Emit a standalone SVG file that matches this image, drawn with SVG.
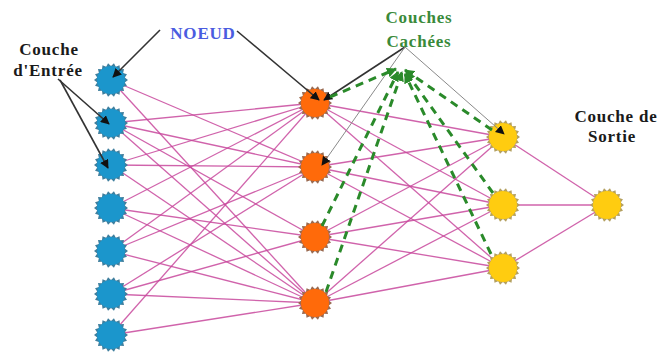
<svg xmlns="http://www.w3.org/2000/svg" xmlns:xlink="http://www.w3.org/1999/xlink" width="660" height="353" viewBox="0 0 660 353">
<style>
.lbl{font-family:"Liberation Serif","Times New Roman",serif;font-weight:bold;font-size:17px;letter-spacing:0.8px;text-anchor:middle}
.blk{fill:#1a1a1a}
.blue{fill:#4a5ce0}
.grn{fill:#3a8a3a}
.w{stroke:#c8489c;stroke-width:1.3;stroke-opacity:0.85;fill:none}
.ann{stroke:#333;stroke-width:1.6;fill:none}
.gry{stroke:#8a8a8a;stroke-width:1;fill:none}
.dash{stroke:#2a8a2a;stroke-width:3;stroke-dasharray:8 6;fill:none}
.in .s{fill:#3f7f9e}.in .c{fill:#1b96cc}
.hid .s{fill:#9a6a50}.hid .c{fill:#ff6a0a}
.yel .s{fill:#b4a060}.yel .c{fill:#ffcc10}
</style>
<defs>
<polygon id="star" points="17,0 13.79,2.43 15.98,5.81 12.12,7 13.02,10.93 9,10.72 8.5,14.72 4.79,13.16 2.95,16.74 0,14 -2.95,16.74 -4.79,13.16 -8.5,14.72 -9,10.72 -13.02,10.93 -12.12,7 -15.98,5.81 -13.79,2.43 -17,0 -13.79,-2.43 -15.98,-5.81 -12.12,-7 -13.02,-10.93 -9,-10.72 -8.5,-14.72 -4.79,-13.16 -2.95,-16.74 0,-14 2.95,-16.74 4.79,-13.16 8.5,-14.72 9,-10.72 13.02,-10.93 12.12,-7 15.98,-5.81 13.79,-2.43"/>
<marker id="ab" viewBox="0 0 10 10" refX="9" refY="5" markerWidth="9" markerHeight="9" markerUnits="userSpaceOnUse" orient="auto"><path d="M0,0 L10,5 L0,10 z" fill="#111"/></marker>
<marker id="ag" viewBox="0 0 10 10" refX="9" refY="5" markerWidth="10" markerHeight="10" markerUnits="userSpaceOnUse" orient="auto"><path d="M0,0 L10,5 L0,10 z" fill="#2a8a2a"/></marker>
</defs>
<rect width="660" height="353" fill="#fff"/>
<g id="connectors">
<g id="w-in-hid">
<line class="w" x1="111" y1="80" x2="315" y2="167"/>
<line class="w" x1="111" y1="80" x2="315" y2="303"/>
<line class="w" x1="111" y1="123" x2="315" y2="103"/>
<line class="w" x1="111" y1="123" x2="315" y2="167"/>
<line class="w" x1="111" y1="123" x2="315" y2="237"/>
<line class="w" x1="111" y1="123" x2="315" y2="303"/>
<line class="w" x1="111" y1="165" x2="315" y2="103"/>
<line class="w" x1="111" y1="165" x2="315" y2="167"/>
<line class="w" x1="111" y1="165" x2="315" y2="303"/>
<line class="w" x1="111" y1="208" x2="315" y2="103"/>
<line class="w" x1="111" y1="208" x2="315" y2="237"/>
<line class="w" x1="111" y1="208" x2="315" y2="303"/>
<line class="w" x1="111" y1="251" x2="315" y2="103"/>
<line class="w" x1="111" y1="251" x2="315" y2="167"/>
<line class="w" x1="111" y1="251" x2="315" y2="303"/>
<line class="w" x1="111" y1="294" x2="315" y2="167"/>
<line class="w" x1="111" y1="294" x2="315" y2="237"/>
<line class="w" x1="111" y1="294" x2="315" y2="303"/>
<line class="w" x1="111" y1="335" x2="315" y2="103"/>
<line class="w" x1="111" y1="335" x2="315" y2="303"/>
</g>
<g id="w-hid-yel">
<line class="w" x1="315" y1="103" x2="503" y2="137"/>
<line class="w" x1="315" y1="103" x2="503" y2="205"/>
<line class="w" x1="315" y1="103" x2="503" y2="268"/>
<line class="w" x1="315" y1="167" x2="503" y2="137"/>
<line class="w" x1="315" y1="167" x2="503" y2="205"/>
<line class="w" x1="315" y1="167" x2="503" y2="268"/>
<line class="w" x1="315" y1="237" x2="503" y2="137"/>
<line class="w" x1="315" y1="237" x2="503" y2="205"/>
<line class="w" x1="315" y1="237" x2="503" y2="268"/>
<line class="w" x1="315" y1="303" x2="503" y2="137"/>
<line class="w" x1="315" y1="303" x2="503" y2="205"/>
<line class="w" x1="315" y1="303" x2="503" y2="268"/>
</g>
<g id="w-yel-out">
<line class="w" x1="503" y1="137" x2="607" y2="205"/>
<line class="w" x1="503" y1="205" x2="607" y2="205"/>
<line class="w" x1="503" y1="268" x2="607" y2="205"/>
</g>
</g>
<g id="nodes">
<g id="in1" class="in"><use xlink:href="#star" class="s" x="111" y="80"/><circle class="c" cx="111" cy="80" r="14"/></g>
<g id="in2" class="in"><use xlink:href="#star" class="s" x="111" y="123"/><circle class="c" cx="111" cy="123" r="14"/></g>
<g id="in3" class="in"><use xlink:href="#star" class="s" x="111" y="165"/><circle class="c" cx="111" cy="165" r="14"/></g>
<g id="in4" class="in"><use xlink:href="#star" class="s" x="111" y="208"/><circle class="c" cx="111" cy="208" r="14"/></g>
<g id="in5" class="in"><use xlink:href="#star" class="s" x="111" y="251"/><circle class="c" cx="111" cy="251" r="14"/></g>
<g id="in6" class="in"><use xlink:href="#star" class="s" x="111" y="294"/><circle class="c" cx="111" cy="294" r="14"/></g>
<g id="in7" class="in"><use xlink:href="#star" class="s" x="111" y="335"/><circle class="c" cx="111" cy="335" r="14"/></g>
<g id="h1" class="hid"><use xlink:href="#star" class="s" x="315" y="103"/><circle class="c" cx="315" cy="103" r="14"/></g>
<g id="h2" class="hid"><use xlink:href="#star" class="s" x="315" y="167"/><circle class="c" cx="315" cy="167" r="14"/></g>
<g id="h3" class="hid"><use xlink:href="#star" class="s" x="315" y="237"/><circle class="c" cx="315" cy="237" r="14"/></g>
<g id="h4" class="hid"><use xlink:href="#star" class="s" x="315" y="303"/><circle class="c" cx="315" cy="303" r="14"/></g>
<g id="y1" class="yel"><use xlink:href="#star" class="s" x="503" y="137"/><circle class="c" cx="503" cy="137" r="14"/></g>
<g id="y2" class="yel"><use xlink:href="#star" class="s" x="503" y="205"/><circle class="c" cx="503" cy="205" r="14"/></g>
<g id="y3" class="yel"><use xlink:href="#star" class="s" x="503" y="268"/><circle class="c" cx="503" cy="268" r="14"/></g>
<g id="out" class="yel"><use xlink:href="#star" class="s" x="607" y="205"/><circle class="c" cx="607" cy="205" r="14"/></g>
</g>
<g id="annotations">
<line class="ann" x1="160" y1="30" x2="113" y2="77" marker-end="url(#ab)"/>
<line class="ann" x1="237" y1="31" x2="319" y2="100" marker-end="url(#ab)"/>
<line class="ann" x1="58" y1="79" x2="109" y2="124" marker-end="url(#ab)"/>
<line class="ann" x1="60" y1="80" x2="108" y2="168" marker-end="url(#ab)"/>
<line class="ann" x1="405" y1="47" x2="324" y2="100" marker-end="url(#ab)"/>
<line class="gry" x1="405" y1="47" x2="322" y2="165" marker-end="url(#ab)"/>
<line class="gry" x1="405" y1="47" x2="504" y2="134" marker-end="url(#ab)"/>
<line class="dash" x1="330" y1="97" x2="396" y2="69" marker-end="url(#ag)"/>
<line class="dash" x1="322" y1="226" x2="398" y2="72" marker-end="url(#ag)"/>
<line class="dash" x1="326" y1="292" x2="402" y2="72" marker-end="url(#ag)"/>
<line class="dash" x1="492" y1="130" x2="405" y2="70" marker-end="url(#ag)"/>
<line class="dash" x1="493" y1="193" x2="406" y2="72" marker-end="url(#ag)"/>
<line class="dash" x1="491" y1="254" x2="405" y2="74" marker-end="url(#ag)"/>
</g>
<g id="labels">
<text class="lbl blue" x="203" y="39">NOEUD</text>
<text class="lbl blk" x="49" y="55">Couche</text>
<text class="lbl blk" x="48" y="76">d'Entrée</text>
<text class="lbl grn" x="419" y="23">Couches</text>
<text class="lbl grn" x="419" y="47">Cachées</text>
<text class="lbl blk" x="616" y="122">Couche de</text>
<text class="lbl blk" x="612" y="142">Sortie</text>
</g>
</svg>
